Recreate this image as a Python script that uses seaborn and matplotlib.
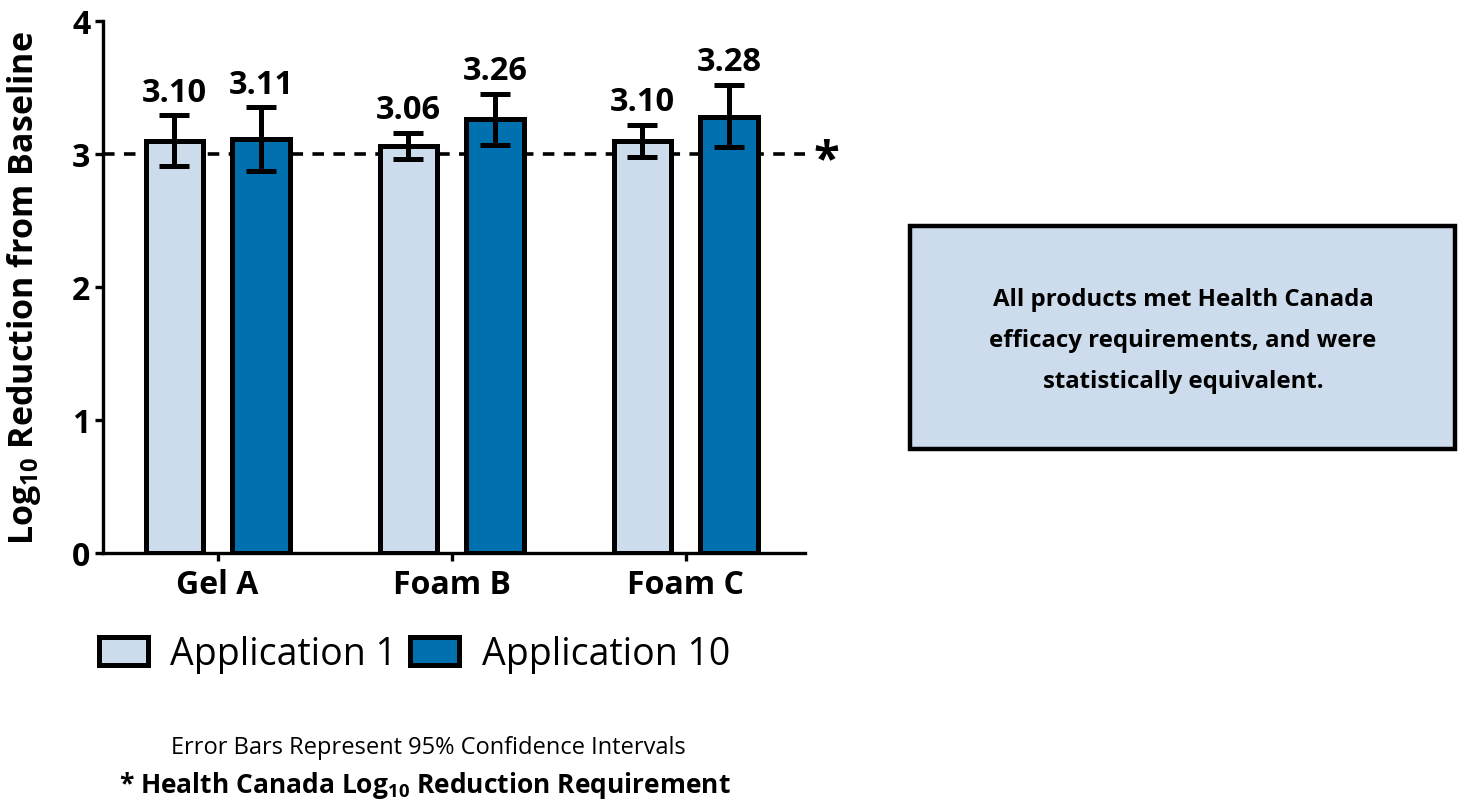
import matplotlib
matplotlib.use("Agg")
import matplotlib.pyplot as plt
import seaborn as sns
import pandas as pd
from matplotlib.patches import Patch, Rectangle

# ---- data ----
products = ["Gel A", "Foam B", "Foam C"]
applications = ["Application 1", "Application 10"]
means_app1 = [3.10, 3.06, 3.10]
means_app10 = [3.11, 3.26, 3.28]
ci_low_app1 = [2.91, 2.96, 2.98]
ci_high_app1 = [3.29, 3.16, 3.22]
ci_low_app10 = [2.87, 3.07, 3.05]
ci_high_app10 = [3.35, 3.45, 3.52]
requirement = 3.0
yticks = [0, 1, 2, 3, 4]

light = "#CCDCEC"
dark = "#0070AE"

sns.set_theme(style="ticks")
FONT = "Open Sans"
plt.rcParams["font.family"] = [FONT, "DejaVu Sans"]
plt.rcParams["mathtext.fontset"] = "custom"
plt.rcParams["mathtext.rm"] = FONT
plt.rcParams["mathtext.bf"] = FONT + ":bold"
for key in ["text.color", "axes.labelcolor", "xtick.color", "ytick.color",
            "axes.edgecolor", "xtick.labelcolor", "ytick.labelcolor"]:
    plt.rcParams[key] = "black"

df = pd.DataFrame({
    "product": products * 2,
    "application": [applications[0]] * 3 + [applications[1]] * 3,
    "mean": means_app1 + means_app10,
})

fig = plt.figure(figsize=(14.63, 8.04), dpi=100)
ax = fig.add_axes([103 / 1463, 1 - 554 / 804, 702 / 1463, 532 / 804])

sns.barplot(data=df, x="product", y="mean", hue="application",
            hue_order=applications, order=products, saturation=1,
            palette=[light, dark], edgecolor="black", linewidth=3.6,
            width=0.74, gap=0.34, errorbar=None, legend=False, ax=ax,
            zorder=3)

ax.axhline(requirement, color="black", lw=2.6, ls=(0, (3.2, 2.6)), zorder=1,
           clip_on=False)

lows = [ci_low_app1, ci_low_app10]
highs = [ci_high_app1, ci_high_app10]
means = [means_app1, means_app10]
for bar in ax.patches:
    if bar.get_height() == 0:
        continue
    xc = bar.get_x() + bar.get_width() / 2
    j = int(round(xc))
    h = 0 if xc < j else 1
    m = means[h][j]
    lo, hi = lows[h][j], highs[h][j]
    ax.errorbar([xc], [m], yerr=[[m - lo], [hi - m]], fmt="none",
                ecolor="black", elinewidth=3.6, capsize=10.5,
                capthick=3.6, zorder=5)
    ax.text(xc, hi + 0.05, f"{m:.2f}", ha="center", va="bottom",
            fontsize=23.5, fontweight="bold", color="black")

ax.set_xlim(-0.49, 2.51)
ax.set_ylim(0, 4)
ax.set_yticks(yticks)
ax.set_xlabel("")
ax.set_ylabel(r"Log$_{\mathbf{10}}$ Reduction from Baseline", fontsize=24.5,
              fontweight="bold", color="black")
ax.yaxis.set_label_coords(-0.085, 0.5)
sns.despine(ax=ax)
for s in ["left", "bottom"]:
    ax.spines[s].set_linewidth(2.4)
    ax.spines[s].set_color("black")
ax.tick_params(axis="both", width=2.4, length=6, color="black",
               labelcolor="black", labelsize=23, pad=3)
ax.tick_params(axis="x", pad=5)
for lab in ax.get_xticklabels() + ax.get_yticklabels():
    lab.set_fontweight("bold")

# asterisk
ax.text(1.03, requirement - 0.05, "*", transform=ax.get_yaxis_transform(),
        ha="center", va="center", fontsize=34, fontweight="bold",
        color="black")

# legend
handles = [Patch(facecolor=light, edgecolor="black", linewidth=3.6),
           Patch(facecolor=dark, edgecolor="black", linewidth=3.6)]
fig.legend(handles, applications, loc="center left",
           bbox_to_anchor=(99 / 1463, 1 - 655 / 804), ncol=2, frameon=False,
           fontsize=27, handlelength=1.3, handleheight=0.8,
           handletextpad=0.6, columnspacing=0.35, borderpad=0,
           borderaxespad=0, labelcolor="black")

# text box
fig.patches.append(Rectangle((910 / 1463, 1 - 450 / 804), 545 / 1463,
                             223 / 804, transform=fig.transFigure,
                             facecolor=light, edgecolor="black", lw=3.2))
fig.text(1183 / 1463, 1 - 341 / 804,
         "All products met Health Canada\nefficacy requirements, and were\nstatistically equivalent.",
         ha="center", va="center", fontsize=17.3, fontweight="bold",
         linespacing=1.95, color="black")

fig.text(428 / 1463, 1 - 748 / 804,
         "Error Bars Represent 95% Confidence Intervals",
         ha="center", va="center", fontsize=17, color="black")
fig.text(425 / 1463, 1 - 786 / 804,
         r"* Health Canada Log$_{\mathbf{10}}$ Reduction Requirement",
         ha="center", va="center", fontsize=19, fontweight="bold",
         color="black")

fig.savefig("out.png", dpi=100)
